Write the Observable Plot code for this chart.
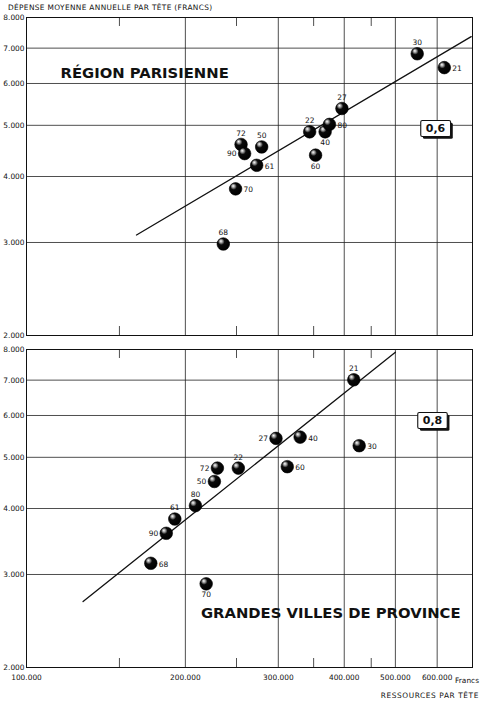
<!DOCTYPE html>
<html>
<head>
<meta charset="utf-8">
<script src="https://cdn.jsdelivr.net/npm/d3@7"></script>
<script src="https://cdn.jsdelivr.net/npm/@observablehq/plot@0.6"></script>
<style>
  html, body { margin: 0; padding: 0; background: #fff; }
  body { width: 480px; height: 703px; position: relative; overflow: hidden; font-family: "DejaVu Sans", sans-serif; color: #111; }
  #chart { position: absolute; left: 0; top: 0; }
  .note { position: absolute; white-space: nowrap; color: #111; }
  #title { left: 8px; top: 3px; font-size: 7.4px; letter-spacing: 0.35px; }
  #unit { right: 1px; top: 676px; font-size: 7.4px; }
  #xlabel { right: 1px; top: 691px; font-size: 7.4px; letter-spacing: 0.6px; }
</style>
</head>
<body>
<div id="chart"></div>
<div class="note" id="title">DÉPENSE MOYENNE ANNUELLE PAR TÊTE (FRANCS)</div>
<div class="note" id="unit">Francs</div>
<div class="note" id="xlabel">RESSOURCES PAR TÊTE</div>
<script>
// ---- data ----
const panelNames = ["RÉGION PARISIENNE", "GRANDES VILLES DE PROVINCE"];
const elasticity = ["0,6", "0,8"];

const parisYears      = ["21", "22", "27", "30", "40", "50", "60", "61", "68", "70", "72", "80", "90"];
const parisRessources = [619000, 344000, 396000, 550000, 368000, 279000, 353000, 273000, 236000, 249000, 255000, 375000, 259000];
const parisDepense    = [6430, 4860, 5380, 6830, 4860, 4550, 4390, 4200, 2980, 3790, 4600, 5020, 4420];
const parisLabelSide  = ["r", "t", "t", "t", "b", "t", "b", "r", "t", "r", "t", "r", "l"];

const provYears      = ["21", "22", "27", "30", "40", "50", "60", "61", "68", "70", "72", "80", "90"];
const provRessources = [417000, 252000, 297000, 427000, 330000, 227000, 312000, 191000, 172000, 219000, 230000, 209000, 184000];
const provDepense    = [7010, 4770, 5430, 5260, 5460, 4500, 4800, 3820, 3150, 2880, 4770, 4050, 3590];
const provLabelSide  = ["t", "t", "l", "r", "r", "l", "r", "t", "r", "b", "l", "t", "l"];

const parisTrendX = [161600, 696000];
const parisTrendY = [3100, 7360];
const provTrendX  = [128000, 500000];
const provTrendY  = [2667, 7905];

const xTickValues  = [100000, 200000, 300000, 400000, 500000, 600000];
const xGridValues  = [200000, 300000, 400000, 500000, 600000];
const xMinorValues = [150000, 250000, 350000, 450000];
const yTickValues  = [2000, 3000, 4000, 5000, 6000, 7000, 8000];
const yGridValues  = [3000, 4000, 5000, 6000, 7000];
const xDomain = [100000, 700000];
const yDomain = [2000, 8000];

// ---- tables ----
const panels = ["top", "bottom"];
const points = [
  ...parisYears.map((yr, i) => ({panel: "top", year: yr, x: parisRessources[i], y: parisDepense[i], side: parisLabelSide[i]})),
  ...provYears.map((yr, i) => ({panel: "bottom", year: yr, x: provRessources[i], y: provDepense[i], side: provLabelSide[i]}))
];
const trends = [
  ...parisTrendX.map((x, i) => ({panel: "top", x, y: parisTrendY[i]})),
  ...provTrendX.map((x, i) => ({panel: "bottom", x, y: provTrendY[i]}))
];
const fmt = d => d3.format(",")(d).replace(/,/g, ".");
const tickFactor = 1.04;

const lbl = {fontSize: 7.5, fill: "#111"};
const side = s => points.filter(d => d.side === s);

const svg = Plot.plot({
  width: 480,
  height: 703,
  marginLeft: 26,
  marginRight: 8,
  marginTop: 17,
  marginBottom: 35,
  style: {fontFamily: "'DejaVu Sans', sans-serif", fontSize: "7.4px", color: "#111", background: "transparent"},
  x: {type: "log", domain: xDomain, ticks: xTickValues, tickFormat: fmt, tickSize: 0, tickPadding: 7, label: null},
  y: {type: "log", domain: yDomain, ticks: yTickValues, tickFormat: fmt, tickSize: 0, tickPadding: 2, label: null},
  fy: {domain: panels, axis: null, label: null, paddingInner: 0.042, paddingOuter: 0},
  marks: [
    Plot.ruleX(xGridValues, {stroke: "#222", strokeWidth: 0.8}),
    Plot.ruleY(yGridValues, {stroke: "#222", strokeWidth: 0.8}),
    Plot.ruleX(xMinorValues, {y1: yDomain[0], y2: yDomain[0] * tickFactor, stroke: "#222", strokeWidth: 0.8}),
    Plot.ruleX(xMinorValues, {y1: yDomain[1] / tickFactor, y2: yDomain[1], stroke: "#222", strokeWidth: 0.8}),
    Plot.frame({stroke: "#111", strokeWidth: 1}),
    Plot.line(trends, {x: "x", y: "y", fy: "panel", z: "panel", stroke: "#111", strokeWidth: 1.3}),
    Plot.text([{panel: "top", t: panelNames[0]}], {fy: "panel", text: "t", frameAnchor: "top-left", dx: 34, dy: 56, textAnchor: "start", lineAnchor: "middle", fontWeight: "bold", fontSize: 14.8, letterSpacing: "0.5px", fill: "#111"}),
    Plot.text([{panel: "bottom", t: panelNames[1]}], {fy: "panel", text: "t", frameAnchor: "bottom-right", dx: -12, dy: -54, textAnchor: "end", lineAnchor: "middle", fontWeight: "bold", fontSize: 14.8, letterSpacing: "0.4px", fill: "#111"}),
    Plot.text([{panel: "top", t: elasticity[0]}], {fy: "panel", text: "t", frameAnchor: "top-right", dx: -37, dy: 111, textAnchor: "middle", lineAnchor: "middle", fontWeight: "bold", fontSize: 11, fill: "#111"}),
    Plot.text([{panel: "bottom", t: elasticity[1]}], {fy: "panel", text: "t", frameAnchor: "top-right", dx: -40, dy: 71, textAnchor: "middle", lineAnchor: "middle", fontWeight: "bold", fontSize: 11, fill: "#111"}),
    Plot.dot(points, {x: "x", y: "y", fy: "panel", r: 6.3, fill: "url(#ball)", stroke: "#000", strokeWidth: 0.6}),
    Plot.text(side("t"), {x: "x", y: "y", fy: "panel", text: "year", dy: -11, ...lbl}),
    Plot.text(side("b"), {x: "x", y: "y", fy: "panel", text: "year", dy: 11, ...lbl}),
    Plot.text(side("r"), {x: "x", y: "y", fy: "panel", text: "year", dx: 8, dy: 1, textAnchor: "start", ...lbl}),
    Plot.text(side("l"), {x: "x", y: "y", fy: "panel", text: "year", dx: -8, dy: 0, textAnchor: "end", ...lbl})
  ]
});

const ns = "http://www.w3.org/2000/svg";
const defs = document.createElementNS(ns, "defs");
defs.innerHTML = '<radialGradient id="ball" cx="0.4" cy="0.38" r="0.62" fx="0.3" fy="0.26">' +
  '<stop offset="0" stop-color="#ffffff"/><stop offset="0.2" stop-color="#9a9a9a"/>' +
  '<stop offset="0.42" stop-color="#0a0a0a"/><stop offset="1" stop-color="#000000"/></radialGradient>';
svg.insertBefore(defs, svg.firstChild);
document.getElementById("chart").appendChild(svg);

// boxes with drop shadow behind the elasticity labels
svg.querySelectorAll("text").forEach(t => {
  if (!elasticity.includes(t.textContent)) return;
  const bb = t.getBBox();
  const tr = t.getAttribute("transform");
  const mk = (dx, dy, fill, stroke) => {
    const r = document.createElementNS(ns, "rect");
    r.setAttribute("x", bb.x - 5 + dx);
    r.setAttribute("y", bb.y - 1.5 + dy);
    r.setAttribute("width", bb.width + 10);
    r.setAttribute("height", bb.height + 3);
    r.setAttribute("rx", 1.5);
    r.setAttribute("fill", fill);
    if (stroke) { r.setAttribute("stroke", stroke); r.setAttribute("stroke-width", 1.1); }
    if (tr) r.setAttribute("transform", tr);
    t.parentNode.insertBefore(r, t);
  };
  mk(2.2, 2.2, "#111", null);
  mk(0, 0, "#fff", "#111");
});
</script>
</body>
</html>
